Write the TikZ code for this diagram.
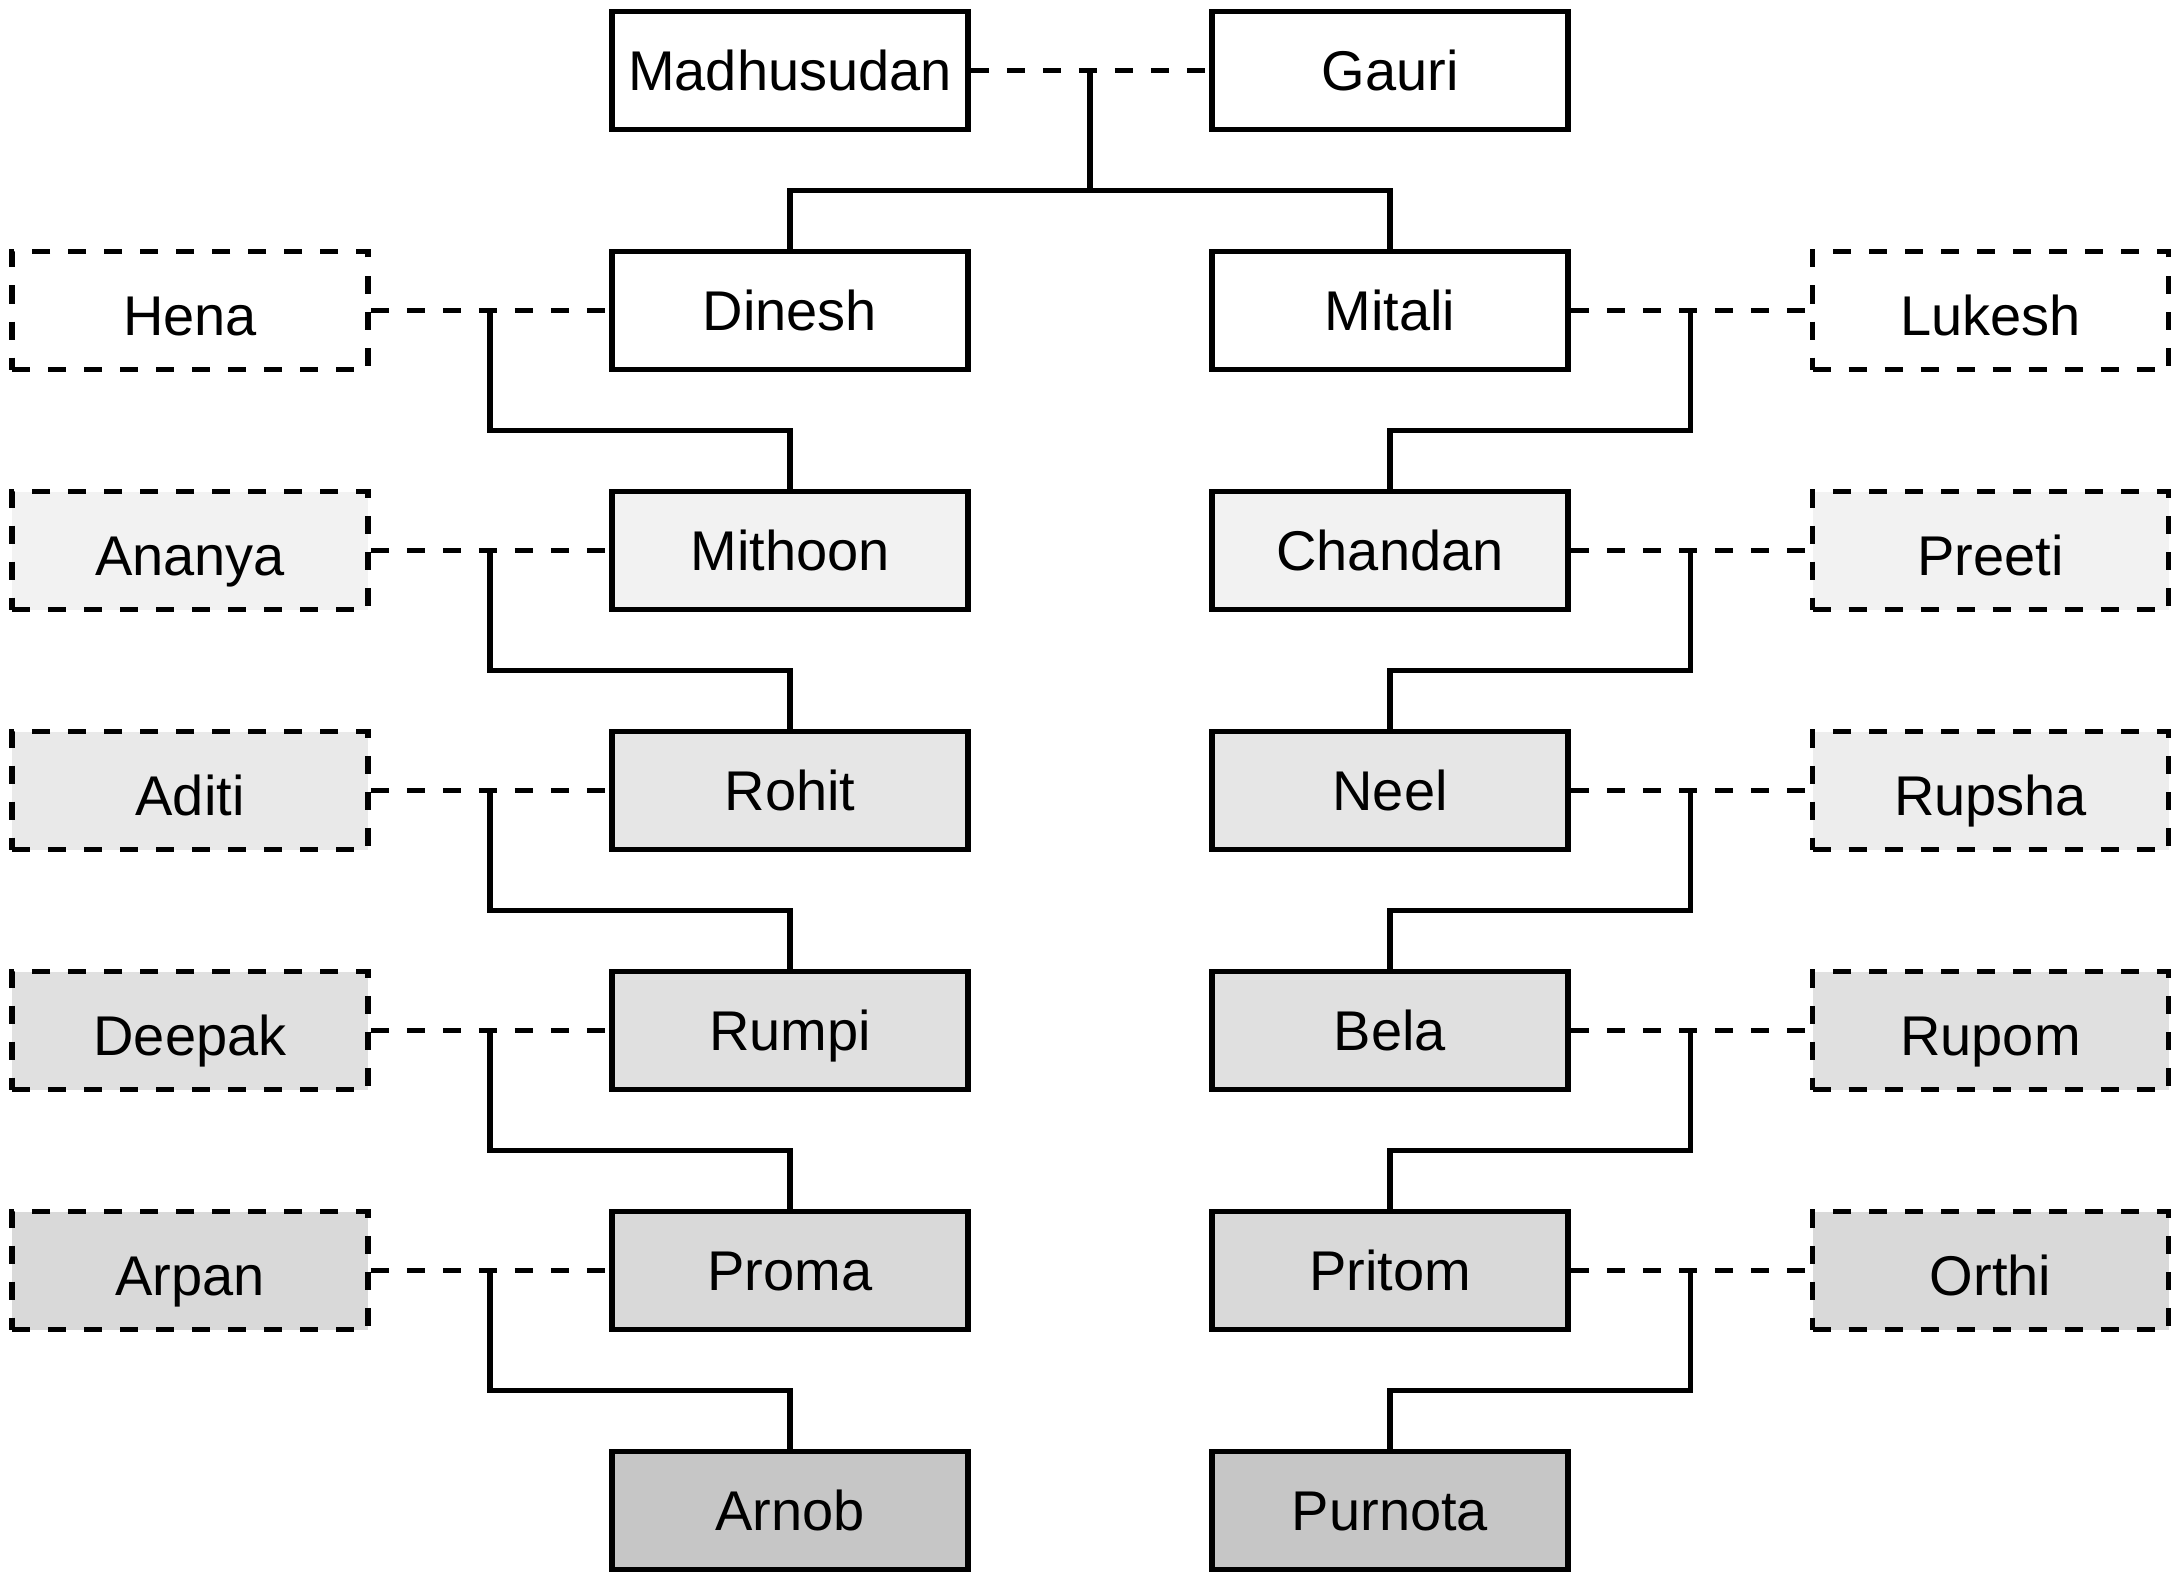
\documentclass[tikz,border=0pt]{standalone}
\usepackage{fontspec}
\setmainfont{Liberation Sans}
\usetikzlibrary{calc}
\definecolor{g1}{HTML}{F2F2F2}
\definecolor{g2}{HTML}{E6E6E6}
\definecolor{g2p}{HTML}{E9E9E9}
\definecolor{g2q}{HTML}{EDEDED}
\definecolor{g3}{HTML}{E0E0E0}
\definecolor{g4}{HTML}{D9D9D9}
\definecolor{g5}{HTML}{C6C6C6}
\tikzset{
  person/.style={draw=black, line width=2.9pt, rectangle, minimum width=178pt, minimum height=59pt,
    inner sep=0pt, text height=20pt, text depth=0pt, font=\fontsize{28}{34}\selectfont, fill=white},
  partner/.style={person, dash pattern=on 9pt off 9pt, text height=24.5pt},
  link/.style={draw=black, line width=2.6pt},
  couple/.style={draw=black, line width=2.7pt, dash pattern=on 9pt off 9pt},
}
\begin{document}
\begin{tikzpicture}[x=0.5pt, y=-0.5pt]
\useasboundingbox (0,0) rectangle (2178,1578);
% row 0
\node[person] (madhu) at (790,70.5) {Madhusudan};
\node[person] (gauri) at (1390,70.5) {Gauri};
% row 1
\node[partner] (hena) at (190,310.5) {Hena};
\node[person] (dinesh) at (790,310.5) {Dinesh};
\node[person] (mitali) at (1390,310.5) {Mitali};
\node[partner] (lukesh) at (1990.5,310.5) {Lukesh};
% row 2
\node[partner, fill=g1] (ananya) at (190,550.5) {Ananya};
\node[person, fill=g1] (mithoon) at (790,550.5) {Mithoon};
\node[person, fill=g1] (chandan) at (1390,550.5) {Chandan};
\node[partner, fill=g1] (preeti) at (1990.5,550.5) {Preeti};
% row 3
\node[partner, fill=g2p] (aditi) at (190,790.5) {Aditi};
\node[person, fill=g2] (rohit) at (790,790.5) {Rohit};
\node[person, fill=g2] (neel) at (1390,790.5) {Neel};
\node[partner, fill=g2q] (rupsha) at (1990.5,790.5) {Rupsha};
% row 4
\node[partner, fill=g3] (deepak) at (190,1030.5) {Deepak};
\node[person, fill=g3] (rumpi) at (790,1030.5) {Rumpi};
\node[person, fill=g3] (bela) at (1390,1030.5) {Bela};
\node[partner, fill=g3] (rupom) at (1990.5,1030.5) {Rupom};
% row 5
\node[partner, fill=g4] (arpan) at (190,1270.5) {Arpan};
\node[person, fill=g4] (proma) at (790,1270.5) {Proma};
\node[person, fill=g4] (pritom) at (1390,1270.5) {Pritom};
\node[partner, fill=g4] (orthi) at (1990.5,1270.5) {Orthi};
% row 6
\node[person, fill=g5] (arnob) at (790,1510.5) {Arnob};
\node[person, fill=g5] (purnota) at (1390,1510.5) {Purnota};

% top couple
\draw[couple] (madhu.east) -- (gauri.west);
\coordinate (m0) at ($(madhu.east)!0.5!(gauri.west)$);
\coordinate (b0) at ($(m0)+(0,120)$);
\draw[link] (m0) -- (b0);
\draw[link] (dinesh.north) |- (b0) -| (mitali.north);

% left line
\foreach \p/\c/\k in {hena/dinesh/mithoon, ananya/mithoon/rohit, aditi/rohit/rumpi, deepak/rumpi/proma, arpan/proma/arnob}{
  \draw[couple] (\p.east) -- (\c.west);
  \coordinate (j-\c) at ($(\p.east)!0.5!(\c.west)$);
  \draw[link] (j-\c) |- ($(\c.south)!0.5!(\k.north)$) -- (\k.north);
}
% right line
\foreach \c/\p/\k in {mitali/lukesh/chandan, chandan/preeti/neel, neel/rupsha/bela, bela/rupom/pritom, pritom/orthi/purnota}{
  \draw[couple] (\c.east) -- (\p.west);
  \coordinate (j-\c) at ($(\c.east)!0.5!(\p.west)$);
  \draw[link] (j-\c) |- ($(\c.south)!0.5!(\k.north)$) -- (\k.north);
}
\end{tikzpicture}
\end{document}
